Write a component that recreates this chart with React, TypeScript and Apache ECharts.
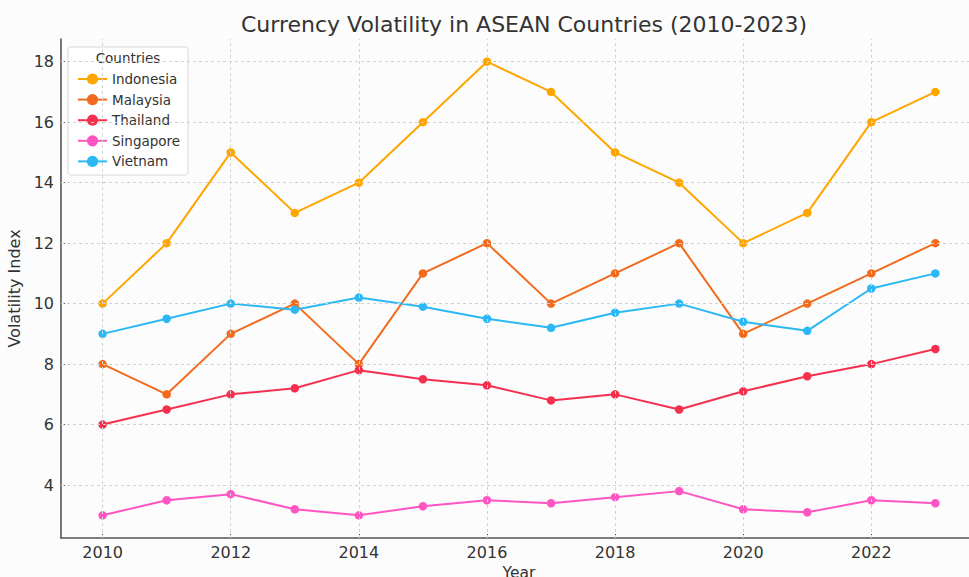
import React, { useEffect, useRef } from "react";
import * as echarts from "echarts";

const years = [2010, 2011, 2012, 2013, 2014, 2015, 2016, 2017, 2018, 2019, 2020, 2021, 2022, 2023];
const indonesia = [10, 12, 15, 13, 14, 16, 18, 17, 15, 14, 12, 13, 16, 17];
const malaysia = [8, 7, 9, 10, 8, 11, 12, 10, 11, 12, 9, 10, 11, 12];
const thailand = [6, 6.5, 7, 7.2, 7.8, 7.5, 7.3, 6.8, 7, 6.5, 7.1, 7.6, 8, 8.5];
const singapore = [3, 3.5, 3.7, 3.2, 3, 3.3, 3.5, 3.4, 3.6, 3.8, 3.2, 3.1, 3.5, 3.4];
const vietnam = [9, 9.5, 10, 9.8, 10.2, 9.9, 9.5, 9.2, 9.7, 10, 9.4, 9.1, 10.5, 11];
const xTicks = [2010, 2012, 2014, 2016, 2018, 2020, 2022];
const yTicks = [4, 6, 8, 10, 12, 14, 16, 18];

const seriesDefs = [
  { name: "Indonesia", data: indonesia, color: "#FFA500" },
  { name: "Malaysia", data: malaysia, color: "#F26B1D" },
  { name: "Thailand", data: thailand, color: "#F5304F" },
  { name: "Singapore", data: singapore, color: "#FF55C3" },
  { name: "Vietnam", data: vietnam, color: "#2BB8F4" },
];

const FONT = "DejaVu Sans";

export default function App() {
  const ref = useRef<HTMLDivElement>(null);
  useEffect(() => {
    if (!ref.current) return;
    const chart = echarts.init(ref.current, undefined, { renderer: "svg" });
    const gridLineStyle = { color: "#d2d2d2", type: [3, 3], width: 1 };
    chart.setOption({
      animation: false,
      backgroundColor: "#fcfcfc",
      textStyle: { fontFamily: FONT },
      title: {
        text: "Currency Volatility in ASEAN Countries (2010-2023)",
        left: 519,
        textAlign: "center",
        top: 8,
        textStyle: { fontFamily: FONT, fontSize: 22, fontWeight: "normal", color: "#333" },
      },
      grid: { left: 61, top: 39, width: 916, height: 499, containLabel: false, outerBoundsMode: "none" },
      legend: {
        orient: "vertical",
        left: 72,
        top: 67,
        itemWidth: 29,
        itemHeight: 14,
        itemGap: 6.6,
        textStyle: { fontFamily: FONT, fontSize: 13.5, color: "#333" },
        data: seriesDefs.map((s) => s.name),
      },
      graphic: [
        {
          type: "rect",
          shape: { x: 68, y: 47, width: 120, height: 128, r: 3 },
          style: { fill: "rgba(255,255,255,0.85)", stroke: "#d8d8d8", lineWidth: 1 },
          z: 3,
        },
        {
          type: "text",
          x: 128,
          y: 58,
          style: { text: "Countries", fontFamily: FONT, fontSize: 13.5, fill: "#333", align: "center", verticalAlign: "middle" },
          z: 4,
        },
      ],
      xAxis: {
        type: "value",
        min: 2009.35,
        max: 2023.65,
        name: "Year",
        nameLocation: "middle",
        nameGap: 26,
        nameTextStyle: { fontFamily: FONT, fontSize: 15.5, color: "#333" },
        axisLine: { show: true, onZero: false, lineStyle: { color: "#555", width: 1.6 } },
        axisTick: { show: true, inside: true, length: 4, lineStyle: { color: "#555" }, customValues: xTicks },
        axisLabel: { fontFamily: FONT, fontSize: 16, color: "#333", margin: 6, customValues: xTicks, formatter: (v: number) => String(v) },
        splitLine: { show: false },
      },
      yAxis: {
        type: "value",
        min: 2.25,
        max: 18.75,
        name: "Volatility Index",
        nameLocation: "middle",
        nameGap: 33,
        nameTextStyle: { fontFamily: FONT, fontSize: 16, color: "#333" },
        axisLine: { show: true, lineStyle: { color: "#555", width: 1.6 } },
        axisTick: { show: true, inside: true, length: 4, lineStyle: { color: "#555" }, customValues: yTicks },
        axisLabel: { fontFamily: FONT, fontSize: 16, color: "#333", margin: 7, customValues: yTicks },
        splitLine: { show: false },
      },
      series: [
        {
          name: "gridlines",
          type: "line",
          data: [],
          silent: true,
          z: 1,
          markLine: {
            silent: true,
            symbol: "none",
            label: { show: false },
            lineStyle: gridLineStyle,
            emphasis: { disabled: true },
            data: [...xTicks.map((v) => ({ xAxis: v })), ...yTicks.map((v) => ({ yAxis: v }))],
          },
        },
        ...seriesDefs.map((s) => ({
          name: s.name,
          type: "line",
          data: years.map((y, i) => [y, s.data[i]]),
          symbol: "circle",
          symbolSize: 8.5,
          lineStyle: { width: 2, color: s.color },
          itemStyle: { color: s.color },
          z: 2,
        })),
      ],
    });
    return () => chart.dispose();
  }, []);
  return <div ref={ref} style={{ position: "fixed", left: 0, top: 0, width: 969, height: 577 }} />;
}
